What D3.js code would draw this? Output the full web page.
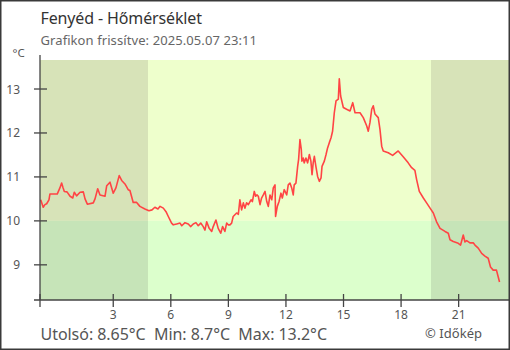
<!DOCTYPE html>
<html><head><meta charset="utf-8">
<script src="https://cdn.jsdelivr.net/npm/d3@7"></script>
<style>html,body{margin:0;padding:0;background:#fff}svg{display:block}text{font-family:"Noto Sans",sans-serif}</style>
</head><body><div id="chart"></div>
<script>
// Hours since midnight of 2025-05-07 (negative = previous evening)
const hours = [-0.78,-0.65,-0.56,-0.47,-0.35,-0.30,0.08,0.22,0.31,0.38,0.45,0.59,0.75,0.89,0.97,1.09,1.27,1.44,1.53,1.65,1.96,2.05,2.19,2.31,2.57,2.66,2.83,3.00,3.14,3.31,3.44,3.61,3.78,3.87,4.04,4.22,4.39,4.65,4.86,5.02,5.17,5.33,
  5.44,5.61,5.75,5.87,6.04,6.13,6.31,6.48,6.57,6.74,6.91,7.03,7.17,7.31,7.43,7.56,7.69,7.78,7.87,8.00,8.13,8.21,8.35,8.47,8.60,8.70,8.82,8.91,8.99,
  9.08,9.17,9.25,9.43,9.52,9.60,9.69,9.78,9.86,9.95,10.04,10.18,10.25,10.35,10.42,10.49,10.56,10.65,10.73,10.82,10.91,11.00,11.08,11.17,11.26,11.34,11.43,11.46,11.55,11.64,11.74,11.81,11.91,12.04,12.12,12.21,12.30,12.38,12.43,
  12.52,12.61,12.66,12.73,12.80,12.83,12.90,12.95,13.04,13.13,13.22,13.30,13.36,13.42,13.48,13.56,13.65,13.74,13.83,13.88,14.00,14.09,14.17,14.26,14.35,14.43,
  14.52,14.61,14.73,14.78,14.85,14.99,15.16,15.34,15.48,15.60,15.86,16.03,16.21,16.29,16.38,16.47,16.55,16.64,16.81,16.90,16.99,17.07,17.33,17.56,17.85,18.11,18.37,18.55,18.72,18.81,18.95,19.16,19.33,19.51,19.68,19.85,20.03,20.29,20.46,20.55,20.72,20.98,21.10,21.24,21.33,21.42,21.59,21.76,21.85,22.02,22.20,22.37,22.54,22.66,22.80,22.97,23.06,23.13];
const temps = [10.48,10.31,10.37,10.39,10.48,10.61,10.61,10.75,10.86,10.76,10.67,10.66,10.56,10.52,10.65,10.57,10.65,10.66,10.50,10.38,10.41,10.50,10.73,10.59,10.56,10.80,10.88,10.63,10.75,11.03,10.92,10.84,10.71,10.69,10.42,10.42,10.33,10.27,10.23,10.25,10.31,10.27,
  10.33,10.29,10.21,10.10,9.95,9.91,9.93,9.95,9.89,9.96,9.93,9.87,9.93,9.96,9.89,9.95,9.87,9.79,9.98,9.83,9.76,9.87,10.02,9.83,9.72,9.87,9.76,9.95,9.91,
  9.91,9.95,10.10,10.18,10.15,10.48,10.25,10.41,10.29,10.41,10.37,10.48,10.44,10.67,10.56,10.59,10.56,10.37,10.52,10.59,10.67,10.44,10.33,10.59,10.48,10.75,10.82,10.10,10.33,10.44,10.63,10.52,10.71,10.59,10.82,10.86,10.75,10.59,10.82,
  10.86,11.24,11.40,11.85,11.62,11.36,11.43,11.32,11.43,11.32,11.51,11.36,11.05,11.32,11.47,11.24,11.01,10.90,10.98,11.24,11.36,11.51,11.66,11.78,11.89,12.04,
  12.46,12.73,12.77,13.23,12.84,12.58,12.54,12.50,12.69,12.46,12.46,12.35,12.16,12.04,12.24,12.54,12.62,12.43,12.35,12.08,11.70,11.59,11.55,11.49,11.59,11.46,11.32,11.21,11.15,10.94,10.67,10.52,10.41,10.29,10.18,9.98,9.83,9.76,9.72,9.57,9.53,9.49,9.45,9.68,9.52,9.55,9.50,9.50,9.45,9.38,9.26,9.20,9.15,8.95,8.88,8.88,8.73,8.61];
const xDomain = [-0.817, 23.65];
const yDomain = [8.2, 13.66];
const xTicks = [3, 6, 9, 12, 15, 18, 21];
const yTicks = [9, 10, 11, 12, 13];
const nights = [[-0.817, 4.81], [19.56, 23.65]];
const threshold = 10;
const title = "Fenyéd - Hőmérséklet";
const subtitle = "Grafikon frissítve: 2025.05.07 23:11";
const unit = "°C";
const footer = "Utolsó: 8.65°C  Min: 8.7°C  Max: 13.2°C";
const credit = "© Időkép";

const W = 510, H = 350;
const svg = d3.select("#chart").append("svg").attr("width", W).attr("height", H);
const x = d3.scaleLinear().domain(xDomain).range([40, 509.5]);
const y = d3.scaleLinear().domain(yDomain).range([300, 60]);

const g = svg.append("g");
// day bands
g.append("rect").attr("x", x(xDomain[0])).attr("width", x(xDomain[1]) - x(xDomain[0]))
  .attr("y", y(yDomain[1])).attr("height", y(threshold) - y(yDomain[1])).attr("fill", "#eeffcc");
g.append("rect").attr("x", x(xDomain[0])).attr("width", x(xDomain[1]) - x(xDomain[0]))
  .attr("y", y(threshold)).attr("height", y(yDomain[0]) - y(threshold)).attr("fill", "#dcffcc");
// night bands
nights.forEach(n => {
  g.append("rect").attr("x", x(n[0])).attr("width", x(n[1]) - x(n[0]))
    .attr("y", y(yDomain[1])).attr("height", y(threshold) - y(yDomain[1])).attr("fill", "#d7e3b8");
  g.append("rect").attr("x", x(n[0])).attr("width", x(n[1]) - x(n[0]))
    .attr("y", y(threshold)).attr("height", y(yDomain[0]) - y(threshold)).attr("fill", "#c6e4b8");
});

// line
const data = hours.map((h, i) => [h, temps[i]]);
g.append("path").datum(data)
  .attr("d", d3.line().x(d => x(d[0])).y(d => y(d[1])))
  .attr("fill", "none").attr("stroke", "#ff4444").attr("stroke-width", 1.6).attr("stroke-linejoin", "round");

const axisColor = "#444";
// x axis
const xa = svg.append("g").attr("transform", "translate(0,300)");
xa.append("line").attr("x1", 34).attr("x2", 509.5).attr("stroke", axisColor).attr("stroke-width", 1.3);
[xDomain[0]].concat(xTicks).forEach(t => {
  xa.append("line").attr("x1", x(t)).attr("x2", x(t)).attr("y1", -6).attr("y2", 7)
    .attr("stroke", axisColor).attr("stroke-width", 1.3);
});
xTicks.forEach(t => {
  xa.append("text").attr("x", x(t)).attr("y", 19).attr("text-anchor", "middle")
    .attr("font-size", 12).attr("fill", "#555").text(t);
});
// y axis
const ya = svg.append("g").attr("transform", "translate(40,0)");
ya.append("line").attr("y1", 55).attr("y2", 300).attr("stroke", axisColor).attr("stroke-width", 1.3);
yTicks.forEach(t => {
  ya.append("line").attr("x1", -6).attr("x2", 7).attr("y1", y(t)).attr("y2", y(t))
    .attr("stroke", axisColor).attr("stroke-width", 1.3);
  ya.append("text").attr("x", -20).attr("y", y(t) + 4.5).attr("text-anchor", "end")
    .attr("font-size", 12).attr("fill", "#555").text(t);
});
svg.append("text").attr("x", 12.5).attr("y", 57).attr("font-size", 11.5).attr("fill", "#555").text(unit);

// titles
svg.append("text").attr("x", 40.5).attr("y", 24).attr("font-size", 16).attr("fill", "#333")
  .attr("textLength", 161.5).attr("lengthAdjust", "spacing").text(title);
svg.append("text").attr("x", 40.5).attr("y", 45).attr("font-size", 13).attr("fill", "#666")
  .attr("textLength", 216.5).attr("lengthAdjust", "spacing").text(subtitle);
svg.append("text").attr("x", 40.5).attr("y", 340).attr("font-size", 16).attr("fill", "#555")
  .attr("xml:space", "preserve").style("white-space", "pre")
  .attr("textLength", 286.5).attr("lengthAdjust", "spacing").text(footer);
svg.append("text").attr("x", 425).attr("y", 337.5).attr("font-size", 13).attr("fill", "#555")
  .attr("textLength", 57).attr("lengthAdjust", "spacing").text(credit);

// frame
svg.append("rect").attr("x", 0.75).attr("y", 0.75).attr("width", W - 1.5).attr("height", H - 1.5)
  .attr("fill", "none").attr("stroke", "#3a3a3a").attr("stroke-width", 1.5);
</script></body></html>
